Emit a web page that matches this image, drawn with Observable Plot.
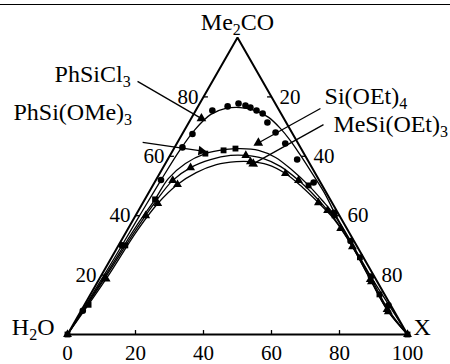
<!DOCTYPE html>
<html><head><meta charset="utf-8">
<script src="https://cdn.jsdelivr.net/npm/d3@7"></script>
<script src="https://cdn.jsdelivr.net/npm/@observablehq/plot@0.6"></script>
<style>
body{margin:0;background:#fff;}
#wrap{position:relative;width:450px;height:364px;overflow:hidden;}
#rule{position:absolute;left:0;top:4px;width:450px;height:0;border-top:1.5px solid #000;}
#chart svg, #chart svg text, #chart svg tspan{font-family:"Liberation Serif","Times New Roman",serif !important;}
</style></head><body>
<div id="wrap"><div id="rule"></div><div id="chart"></div></div>
<script>
// compositions are [X %, Me2CO %]; water = 100 - X - Me2CO
const vertexLabels = ["H₂O", "X", "Me₂CO"];
const vertexComp = [[0, 0], [100, 0], [0, 100]];
const tickValues = [20, 40, 60, 80];
const bottomTickValues = [0, 20, 40, 60, 80, 100];
const bottomTickLabels = ["0", "20", "40", "60", "80", "100"];
const leftTickLabels = ["20", "40", "60", "80"];
const rightTickLabels = ["20", "40", "60", "80"];

const seriesNames = ["PhSiCl₃", "PhSi(OMe)₃", "Si(OEt)₄", "MeSi(OEt)₃"];
const seriesSymbols = ["circle", "square", "triangle", "triangle"];

const curvePhSiCl3 = [[0,0],[0.8,21],[1.2,40],[1.5,52],[2,62],[3,69],[5.1,74.1],[8.5,76.1],[12.7,76.4],[17.6,75.4],[22.6,73.1],[27.9,69.4],[32.9,65.3],[38.4,60.3],[45.2,53.9],[52.3,47.1],[58.5,40.5],[67.5,31.5],[79.5,19.5],[89.7,9.8],[100,0]];
const curvePhSiOMe3 = [[0,0],[1.2,19.5],[2,36.5],[3,45.5],[3.4,52.5],[5.9,57.6],[10.1,60.9],[15.4,62.3],[19.6,62.6],[25.2,62],[31.4,59.6],[38.6,55.2],[45.8,50.2],[52.4,45.1],[58.5,40.1],[67.7,31],[79.3,19.5],[89.5,9],[100,0]];
const curveSiOEt4 = [[0,0],[1.5,19],[2.5,35.5],[3.5,44.5],[5,51.9],[8.1,56.2],[12.6,58.9],[17.8,60.3],[22.3,60.3],[27.8,59.3],[34.3,56.6],[42,51.9],[49.2,46.8],[55.6,41.8],[60.5,37.7],[69,29.6],[79.8,18.5],[89.8,8.4],[100,0]];
const curveMeSiOEt3 = [[0,0],[2,18.7],[3,35],[4.5,44.1],[7.1,50.5],[10.6,54.5],[15.2,57.2],[20.6,58.2],[24.7,58.2],[30.2,57.2],[37,54.2],[44.4,49.5],[51.6,44.4],[57.4,40.1],[62.5,35.7],[70.3,28.3],[80.5,17.8],[90.5,7.7],[100,0]];

const pointsPhSiCl3 = [[0.5,8],[1,30],[1.5,52],[2.3,63],[3,67.5],[4.9,75.4],[8.7,76.8],[11.4,77.8],[13.8,77.1],[15.6,76.4],[17.9,75.4],[20.2,74.4],[23.1,71.4],[27.2,68],[31.9,64.3],[38.1,58.9],[46.8,51.2],[57.9,41],[67.5,31.5],[79.5,19.5],[89.5,9.8]];
const pointsPhSiOMe3 = [[0,0],[1.2,10],[2,30],[3,45.5],[10.1,60.9],[14.9,62],[18.1,62.6],[45.8,50.2],[58.5,40.1],[73,26],[85,13.5],[100,0]];
const pointsSiOEt4 = [[0,0],[1.5,19],[3,40],[5,51.9],[8.1,56.2],[22.3,60.3],[42,51.9],[55.6,41.8],[69,29.6],[79.8,18.5],[89.8,8.4],[100,0]];
const pointsMeSiOEt3 = [[2,18.7],[4.5,44.1],[7.1,50.5],[24.7,58.2],[37,54.2],[51.6,44.4],[62.5,35.7],[80.5,17.8],[90.5,7.7]];

// annotation anchors in plot units (x along base 0-100, y height 0-86.6)
const annLabels = ["PhSiCl₃", "PhSi(OMe)₃", "Si(OEt)₄", "MeSi(OEt)₃"];
const annTextPos = [[-3.8, 73.5], [-15.9, 62.4], [75.6, 67.1], [78.2, 59]];
const annArrowFrom = [[20.6, 73.8], [22.1, 56.0], [74.4, 65.9], [75.3, 61.2]];
const annArrowTo = [[40.2, 62.5], [40.3, 53.4], [55.3, 55.4], [53.8, 49.3]];

const S3 = Math.sqrt(3) / 2;
const px = ([X, A]) => X + A / 2;
const py = ([X, A]) => A * S3;

const curves = [curvePhSiCl3, curvePhSiOMe3, curveSiOEt4, curveMeSiOEt3];
const pts = [pointsPhSiCl3, pointsPhSiOMe3, pointsSiOEt4, pointsMeSiOEt3];
const lineData = curves.flatMap((c, i) => c.map(p => ({series: seriesNames[i], x: px(p), y: py(p)})));
const dotData = pts.flatMap((c, i) => c.map(p => ({series: seriesNames[i], sym: seriesSymbols[i], x: px(p), y: py(p)})));
const tri = [...vertexComp, vertexComp[0]].map(p => ({x: px(p), y: py(p)}));
const vtx = vertexComp.map((p, i) => ({label: vertexLabels[i], x: px(p), y: py(p)}));

const tk = 1.3;
const tickLinks = [
  ...tickValues.map(t => ({x1: t, y1: 0, x2: t, y2: tk})),
  ...tickValues.map(t => ({x1: t / 2, y1: t * S3, x2: t / 2 + tk, y2: t * S3})),
  ...tickValues.map(t => ({x1: 50 + t / 2, y1: (100 - t) * S3, x2: 50 + t / 2 - tk, y2: (100 - t) * S3}))
];
const bottomLbl = bottomTickValues.map((t, i) => ({label: bottomTickLabels[i], x: t, y: 0}));
const leftLbl = tickValues.map((t, i) => ({label: leftTickLabels[i], x: t / 2, y: t * S3}));
const rightLbl = tickValues.map((t, i) => ({label: rightTickLabels[i], x: 50 + t / 2, y: (100 - t) * S3}));
const ann = annLabels.map((l, i) => ({label: l, tx: annTextPos[i][0], ty: annTextPos[i][1],
  x1: annArrowFrom[i][0], y1: annArrowFrom[i][1], x2: annArrowTo[i][0], y2: annArrowTo[i][1]}));

// filled arrowheads: triangles rotated along each arrow, set slightly back from the tip
const W = 450, H = 364, ML = 67, MR = 43, MT = 37, MB = 30;
const kx = (W - ML - MR) / 100, ky = (H - MT - MB) / 86.6;
const heads = ann.map(d => {
  const dxp = (d.x2 - d.x1) * kx, dyp = -(d.y2 - d.y1) * ky;
  const len = Math.hypot(dxp, dyp), ux = dxp / len, uy = dyp / len;
  const back = 3.2;
  return {x: d.x2 - ux * back / kx, y: d.y2 + uy * back / ky,
          rot: Math.atan2(ux, -uy) * 180 / Math.PI};
});

const FF = "'Liberation Serif', 'Times New Roman', serif";
const chart = Plot.plot({
  width: W, height: H,
  marginLeft: ML, marginRight: MR, marginTop: MT, marginBottom: MB,
  x: {domain: [0, 100], axis: null},
  y: {domain: [0, 86.6], axis: null},
  symbol: {domain: ["circle", "square", "triangle"], range: ["circle", "square", "triangle"]},
  style: {fontFamily: FF, fontSize: "21px", background: "transparent", color: "black"},
  marks: [
    Plot.line(tri, {x: "x", y: "y", stroke: "black", strokeWidth: 2, strokeLinejoin: "miter"}),
    Plot.link(tickLinks, {x1: "x1", y1: "y1", x2: "x2", y2: "y2", stroke: "black", strokeWidth: 1.3}),
    Plot.line(lineData, {x: "x", y: "y", z: "series", curve: "catmull-rom", stroke: "black", strokeWidth: 1.3}),
    Plot.dot(dotData, {x: "x", y: "y", symbol: "sym", r: 3.3, fill: "black", stroke: "none"}),
    Plot.link(ann, {x1: "x1", y1: "y1", x2: "x2", y2: "y2", stroke: "black", strokeWidth: 1.3}),
    Plot.dot(heads, {x: "x", y: "y", symbol: "triangle", rotate: "rot", r: 3.6, fill: "black", stroke: "none"}),
    Plot.text(ann, {x: "tx", y: "ty", text: "label", textAnchor: "start", lineAnchor: "bottom", fontFamily: FF, fontSize: 24, fill: "black"}),
    Plot.text(bottomLbl, {x: "x", y: "y", text: "label", lineAnchor: "bottom", dy: 25, fontFamily: FF, fontSize: 21, fill: "black"}),
    Plot.text(leftLbl, {x: "x", y: "y", text: "label", textAnchor: "end", lineAnchor: "middle", dx: -5, fontFamily: FF, fontSize: 21, fill: "black"}),
    Plot.text(rightLbl, {x: "x", y: "y", text: "label", textAnchor: "start", lineAnchor: "middle", dx: 8, fontFamily: FF, fontSize: 21, fill: "black"}),
    Plot.text(vtx.slice(0, 1), {x: "x", y: "y", text: "label", textAnchor: "end", lineAnchor: "bottom", dx: -13, fontFamily: FF, fontSize: 24, fill: "black"}),
    Plot.text(vtx.slice(1, 2), {x: "x", y: "y", text: "label", textAnchor: "start", lineAnchor: "bottom", dx: 6, fontFamily: FF, fontSize: 24, fill: "black"}),
    Plot.text(vtx.slice(2, 3), {x: "x", y: "y", text: "label", textAnchor: "middle", lineAnchor: "bottom", dy: -7, fontFamily: FF, fontSize: 24, fill: "black"})
  ]
});
document.getElementById("chart").appendChild(chart);

// render unicode subscripts as real subscript tspans
const subMap = {"₀":"0","₁":"1","₂":"2","₃":"3","₄":"4","₅":"5","₆":"6","₇":"7","₈":"8","₉":"9"};
chart.querySelectorAll("text").forEach(t => {
  const chars = [...t.textContent];
  if (!chars.some(c => c in subMap)) return;
  const runs = [];
  for (const c of chars) {
    const sub = c in subMap;
    const ch = sub ? subMap[c] : c;
    if (runs.length && runs[runs.length - 1].sub === sub) runs[runs.length - 1].text += ch;
    else runs.push({sub, text: ch});
  }
  while (t.firstChild) t.removeChild(t.firstChild);
  let shifted = false;
  for (const r of runs) {
    const ts = document.createElementNS("http://www.w3.org/2000/svg", "tspan");
    ts.textContent = r.text;
    if (r.sub) { ts.setAttribute("font-size", "16"); ts.setAttribute("dy", "5"); shifted = true; }
    else if (shifted) { ts.setAttribute("dy", "-5"); shifted = false; }
    t.appendChild(ts);
  }
});
</script>
</body></html>
